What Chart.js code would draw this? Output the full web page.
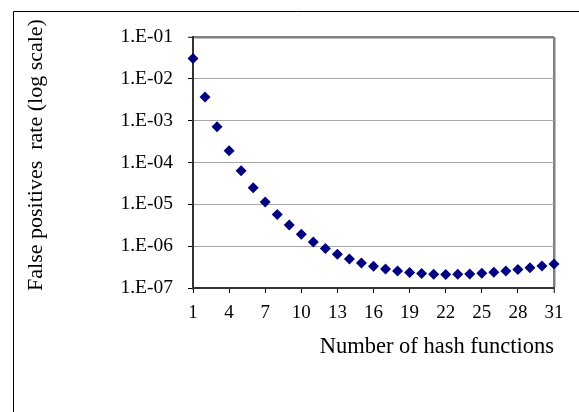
<!DOCTYPE html>
<html>
<head>
<meta charset="utf-8">
<script src="https://cdn.jsdelivr.net/npm/chart.js@4/dist/chart.umd.min.js"></script>
<style>
  html, body { margin: 0; padding: 0; background: #ffffff; }
  #wrap { width: 579px; height: 412px; }
</style>
</head>
<body>
<div id="wrap"><canvas id="c" width="579" height="412"></canvas></div>
<script>
// Number of hash functions (x) and false positive rate (y, log scale)
const hashCounts = [1, 2, 3, 4, 5, 6, 7, 8, 9, 10, 11, 12, 13, 14, 15, 16,
                    17, 18, 19, 20, 21, 22, 23, 24, 25, 26, 27, 28, 29, 30, 31];
const fpRates = [3.08e-2, 3.67e-3, 7.17e-4, 1.91e-4, 6.33e-5, 2.50e-5, 1.13e-5, 5.73e-6,
                 3.20e-6, 1.94e-6, 1.26e-6, 8.75e-7, 6.40e-7, 4.92e-7, 3.95e-7, 3.30e-7,
                 2.86e-7, 2.55e-7, 2.34e-7, 2.21e-7, 2.13e-7, 2.10e-7, 2.12e-7, 2.17e-7,
                 2.26e-7, 2.38e-7, 2.55e-7, 2.77e-7, 3.03e-7, 3.36e-7, 3.75e-7];
const yTickValues = [1e-1, 1e-2, 1e-3, 1e-4, 1e-5, 1e-6, 1e-7];
const yTickLabels = ['1.E-01', '1.E-02', '1.E-03', '1.E-04', '1.E-05', '1.E-06', '1.E-07'];
const xTitle = 'Number of hash functions';
const yTitle = 'False positives  rate (log scale)';

const SERIF = "'Liberation Serif', 'Times New Roman', serif";

const outerFrame = {
  id: 'outerFrame',
  beforeDraw(chart) {
    const ctx = chart.ctx;
    ctx.save();
    ctx.strokeStyle = '#000000';
    ctx.lineWidth = 1;
    ctx.beginPath();
    ctx.moveTo(579, 11.5);
    ctx.lineTo(13.5, 11.5);
    ctx.lineTo(13.5, 412);
    ctx.stroke();
    ctx.restore();
  }
};

// y-axis title, placed like the original (slightly above the plot-area centre)
const yTitlePlugin = {
  id: 'yTitlePlugin',
  afterDraw(chart) {
    const ctx = chart.ctx;
    ctx.save();
    ctx.translate(36, 155);
    ctx.rotate(-Math.PI / 2);
    ctx.font = '22px ' + SERIF;
    ctx.fillStyle = '#000000';
    ctx.textAlign = 'center';
    ctx.textBaseline = 'middle';
    ctx.fillText(yTitle, 0, 0);
    ctx.restore();
  }
};

new Chart(document.getElementById('c'), {
  type: 'scatter',
  data: {
    datasets: [{
      data: hashCounts.map((k, i) => ({ x: k, y: fpRates[i] })),
      showLine: false,
      pointStyle: 'rectRot',
      pointRadius: 5.5,
      pointHoverRadius: 5.5,
      backgroundColor: '#000080',
      borderColor: '#000080',
      borderWidth: 0,
      clip: false
    }]
  },
  options: {
    responsive: false,
    animation: false,
    events: [],
    layout: { padding: { top: 37, right: 25, left: 0, bottom: 0 } },
    plugins: {
      legend: { display: false },
      tooltip: { enabled: false }
    },
    scales: {
      x: {
        type: 'linear',
        min: 1,
        max: 31,
        afterFit(scale) { scale.height = 124; },
        ticks: {
          stepSize: 3,
          padding: 9,
          color: '#000000',
          font: { family: SERIF, size: 19 },
          maxRotation: 0,
          callback: (v) => String(v)
        },
        grid: {
          color: (c) => (c.tick && c.tick.value === 31) ? '#808080' : 'rgba(0,0,0,0)',
          lineWidth: (c) => (c.tick && c.tick.value === 31) ? 2.5 : 1,
          tickColor: '#000000',
          tickWidth: 1,
          tickLength: 5
        },
        border: { color: '#333333', width: 2 },
        title: {
          display: true,
          text: xTitle,
          align: 'end',
          color: '#000000',
          font: { family: SERIF, size: 22.5 },
          padding: { top: 0, bottom: 51 }
        }
      },
      y: {
        type: 'logarithmic',
        min: 1e-7,
        max: 1e-1,
        afterFit(scale) { scale.width = 193; },
        afterBuildTicks(scale) { scale.ticks = yTickValues.map(v => ({ value: v })); },
        ticks: {
          padding: 15,
          color: '#000000',
          font: { family: SERIF, size: 19.5 },
          callback: (v) => {
            const i = yTickValues.findIndex(t => Math.abs(Math.log10(t) - Math.log10(v)) < 1e-6);
            return i >= 0 ? yTickLabels[i] : '';
          }
        },
        grid: {
          color: (c) => (c.tick && c.tick.value === 1e-1) ? '#808080' : '#a6a6a6',
          lineWidth: (c) => (c.tick && c.tick.value === 1e-1) ? 2.5 : 1,
          tickColor: '#000000',
          tickWidth: 1,
          tickLength: 5
        },
        border: { color: '#333333', width: 2 },
        title: { display: false }
      }
    }
  },
  plugins: [outerFrame, yTitlePlugin]
});
</script>
</body>
</html>
